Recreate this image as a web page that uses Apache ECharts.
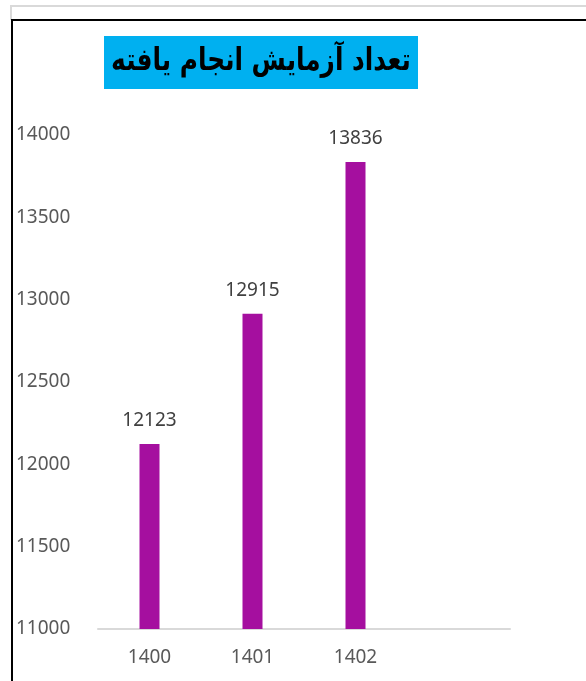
<!DOCTYPE html>
<html>
<head>
<meta charset="utf-8">
<script src="https://cdn.jsdelivr.net/npm/echarts@6/dist/echarts.min.js"></script>
<style>
html, body { margin: 0; padding: 0; background: #fff; }
#main { width: 586px; height: 681px; }
</style>
</head>
<body>
<div id="main"></div>
<script>
// years and number of tests done
var years = ['1400', '1401', '1402', ''];
var tests = [12123, 12915, 13836, null];
var yTicks = [11000, 11500, 12000, 12500, 13000, 13500, 14000];
var titleText = 'تعداد آزمایش انجام یافته';

var myChart = echarts.init(document.getElementById('main'));

var option = {
    backgroundColor: '#fff',
    animation: false,
    grid: { left: 98, right: 76, top: 135, bottom: 52 },
    graphic: [
        // outer light frame
        { type: 'line', shape: { x1: 10, y1: 6, x2: 586, y2: 6 }, style: { stroke: '#d9d9d9', lineWidth: 2 } },
        { type: 'line', shape: { x1: 11, y1: 5, x2: 11, y2: 20 }, style: { stroke: '#d9d9d9', lineWidth: 2 } },
        // black frame of the chart
        { type: 'line', shape: { x1: 11, y1: 20, x2: 586, y2: 20 }, style: { stroke: '#000', lineWidth: 2 } },
        { type: 'line', shape: { x1: 12, y1: 19, x2: 12, y2: 681 }, style: { stroke: '#000', lineWidth: 2 } },
        // title box
        { type: 'rect', shape: { x: 104, y: 36, width: 314, height: 53 }, style: { fill: '#00b0f0' } },
        {
            type: 'text', x: 261, y: 62, scaleX: 0.8,
            style: {
                text: titleText, fill: '#000',
                font: 'bold 31px "DejaVu Sans", sans-serif',
                align: 'center', verticalAlign: 'middle'
            }
        }
    ],
    xAxis: {
        type: 'category',
        data: years,
        axisLine: { lineStyle: { color: '#d9d9d9', width: 2 } },
        axisTick: { show: false },
        axisLabel: { color: '#595959', fontSize: 19, fontFamily: 'Noto Sans', margin: 19 }
    },
    yAxis: {
        type: 'value',
        min: yTicks[0],
        max: yTicks[yTicks.length - 1],
        interval: 500,
        splitLine: { show: false },
        axisLine: { show: false },
        axisTick: { show: false },
        axisLabel: {
            color: '#595959', fontSize: 19, fontFamily: 'Noto Sans', align: 'left', margin: 82,
            formatter: function (v) { return String(v); }
        }
    },
    series: [{
        type: 'bar',
        data: tests,
        barWidth: 20,
        itemStyle: { color: '#a50f9f' },
        label: {
            show: true, position: 'top', distance: 14,
            color: '#404040', fontSize: 19, fontFamily: 'Noto Sans'
        }
    }]
};
myChart.setOption(option);
</script>
</body>
</html>
